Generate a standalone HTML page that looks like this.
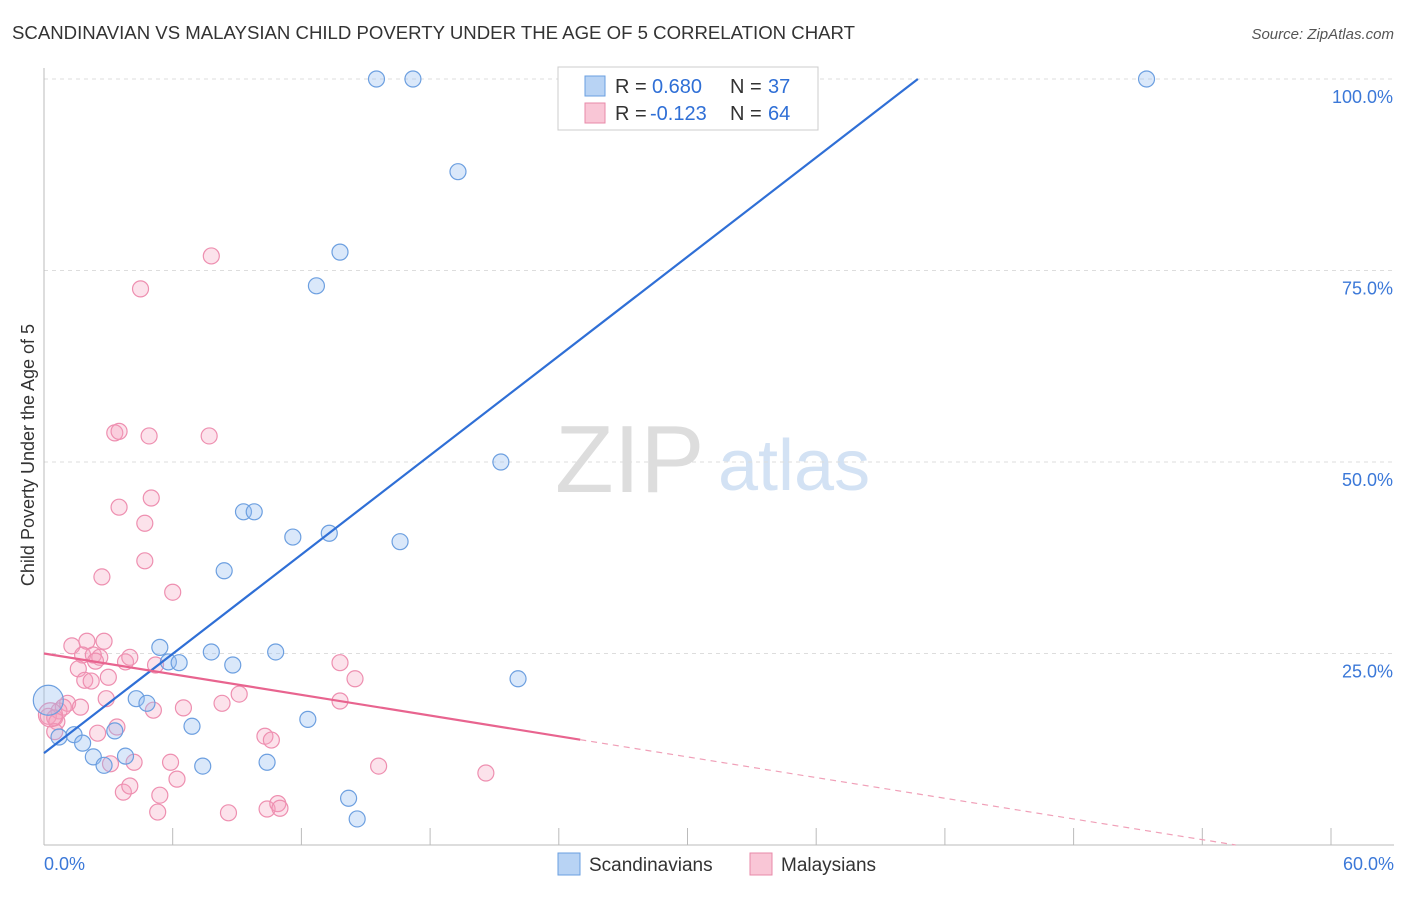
<!DOCTYPE html>
<html><head><meta charset="utf-8"><style>
body{margin:0;background:#fff;font-family:"Liberation Sans",sans-serif;}
svg text{font-family:"Liberation Sans",sans-serif;}
</style></head><body>
<svg id="c" width="1406" height="892">
<text x="12" y="39" font-size="18" fill="#333" textLength="843" lengthAdjust="spacingAndGlyphs">SCANDINAVIAN VS MALAYSIAN CHILD POVERTY UNDER THE AGE OF 5 CORRELATION CHART</text>
<text x="1394" y="39" font-size="15" fill="#555" font-style="italic" text-anchor="end">Source: ZipAtlas.com</text>
<text x="555" y="492" font-size="96" fill="#ddd" font-family="Liberation Serif">ZIP</text>
<text x="718" y="490" font-size="72" fill="#d3e2f4">atlas</text>
<text x="34" y="455" font-size="18" fill="#333" text-anchor="middle" transform="rotate(-90 34 455)">Child Poverty Under the Age of 5</text>
<g id="grid"></g><g id="marks"></g>
<g>
<rect x="558" y="67" width="260" height="63" fill="#fff" stroke="#ccc"/>
<rect x="585" y="76" width="20" height="20" fill="#b8d3f4" stroke="#6a9fe0"/>
<rect x="585" y="103" width="20" height="20" fill="#f9c6d6" stroke="#e889a8"/>
<text x="615" y="93" font-size="20" fill="#333">R =</text>
<text x="652" y="93" font-size="20" fill="#2f6fd6">0.680</text>
<text x="730" y="93" font-size="20" fill="#333">N =</text>
<text x="768" y="93" font-size="20" fill="#2f6fd6">37</text>
<text x="615" y="120" font-size="20" fill="#333">R =</text>
<text x="650" y="120" font-size="20" fill="#2f6fd6">-0.123</text>
<text x="730" y="120" font-size="20" fill="#333">N =</text>
<text x="768" y="120" font-size="20" fill="#2f6fd6">64</text>
</g>
<g>
<rect x="558" y="853" width="22" height="22" fill="#b8d3f4" stroke="#6a9fe0"/>
<text x="589" y="871" font-size="19" fill="#333">Scandinavians</text>
<rect x="750" y="853" width="22" height="22" fill="#f9c6d6" stroke="#e889a8"/>
<text x="781" y="871" font-size="19" fill="#333">Malaysians</text>
</g>
</svg>
<script>
const xTicksLbl=["0.0%","60.0%"];
const yTicks=[25,50,75,100];
const blueX=[15.5,17.2,51.4,26.1,19.3,13.8,12.7,21.3,9.3,9.8,11.6,13.3,16.6,8.4,5.4,5.8,6.3,7.8,8.8,10.8,22.1,4.3,4.8,6.9,12.3,3.3,0.7,1.4,1.8,2.3,3.8,2.8,7.4,10.4,14.2,14.6,0.2];
const blueY=[100,100,100,100,87.9,77.4,73.0,50.0,43.5,43.5,40.2,40.7,39.6,35.8,25.8,23.9,23.8,25.2,23.5,25.2,21.7,19.1,18.5,15.5,16.4,14.9,14.1,14.4,13.3,11.5,11.6,10.4,10.3,10.8,6.1,3.4,18.9];
const pinkX=[7.8,4.5,3.3,3.5,4.9,7.7,5.0,3.5,4.7,2.7,4.7,6.0,1.3,2.0,2.8,1.8,2.3,2.6,3.8,4.0,5.2,1.6,2.4,1.9,2.2,3.0,13.8,14.5,2.9,1.1,1.7,0.7,0.2,0.5,0.6,0.9,9.1,6.5,8.3,13.8,5.1,3.4,2.5,0.5,10.3,10.6,3.1,4.2,5.9,15.6,20.6,3.7,4.0,5.4,6.2,5.3,8.6,10.4,10.9,11.0,0.3];
const pinkY=[76.9,72.6,53.8,54.0,53.4,53.4,45.3,44.1,42.0,35.0,37.1,33.0,26.0,26.6,26.6,24.8,24.8,24.5,23.9,24.5,23.5,23.0,24.0,21.5,21.4,21.9,23.8,21.7,19.1,18.5,18.0,17.5,16.8,16.6,16.1,18.0,19.7,17.9,18.5,18.8,17.6,15.4,14.6,14.8,14.2,13.7,10.6,10.8,10.8,10.3,9.4,6.9,7.7,6.5,8.6,4.3,4.2,4.7,5.4,4.8,17.0];
const blueFit=[12.0,2.16];
const pinkFit=[25.0,-0.45];
const pinkSolidEnd=25;
const X=v=>44+v*21.45, Y=v=>845-v*7.66;
const NS="http://www.w3.org/2000/svg";
function mk(t,a,p){const e=document.createElementNS(NS,t);for(const k in a)e.setAttribute(k,a[k]);p.appendChild(e);return e;}
const g=document.getElementById('grid'), m=document.getElementById('marks');
yTicks.forEach(t=>{
const l=mk('line',{x1:44,x2:1394,y1:Y(t),y2:Y(t),stroke:'#ddd','stroke-dasharray':'4,4'},g);


const tx=mk('text',{x:1393,y:Y(t)+24,'font-size':18,fill:'#3b78d8','text-anchor':'end'},g);
tx.textContent=t.toFixed(1)+'%';


});
const ax=mk('line',{x1:44,x2:1394,y1:845,y2:845,stroke:'#bbb'},g);


const ay=mk('line',{x1:44,x2:44,y1:68,y2:845,stroke:'#bbb'},g);


for(let i=0;i<=10;i++){const t=mk('line',{x1:X(i*6),x2:X(i*6),y1:828,y2:845,stroke:'#bbb'},g);

}
[[0,'start',44],[60,'end',1394]].forEach((d,i)=>{const t=mk('text',{x:d[2],y:870,'font-size':18,fill:'#3b78d8','text-anchor':d[1]},g);t.textContent=xTicksLbl[i];

});
pinkX.forEach((x,i)=>{const c=mk('circle',{cx:X(x),cy:Y(pinkY[i]),r:i==pinkX.length-1?12:8,fill:'rgba(244,160,190,0.3)',stroke:'#ee8fb0','stroke-width':1.2},m);

});
blueX.forEach((x,i)=>{const c=mk('circle',{cx:X(x),cy:Y(blueY[i]),r:i==blueX.length-1?15:8,fill:'rgba(150,190,240,0.35)',stroke:'#6c9fe0','stroke-width':1.2},m);

});
const bx2=(100-blueFit[0])/blueFit[1];
const bl=mk('line',{x1:X(0),y1:Y(blueFit[0]),x2:X(bx2),y2:Y(100),stroke:'#2f6fd6','stroke-width':2.2},m);


const pl=mk('line',{x1:X(0),y1:Y(pinkFit[0]),x2:X(pinkSolidEnd),y2:Y(pinkFit[0]+pinkFit[1]*pinkSolidEnd),stroke:'#e8648f','stroke-width':2.2},m);


const px0=Math.min(60,-pinkFit[0]/pinkFit[1]);
const pd=mk('line',{x1:X(pinkSolidEnd),y1:Y(pinkFit[0]+pinkFit[1]*pinkSolidEnd),x2:X(px0),y2:Y(pinkFit[0]+pinkFit[1]*px0),stroke:'#f0a0b8','stroke-width':1.2,'stroke-dasharray':'6,5'},m);


</script>
</body></html>
